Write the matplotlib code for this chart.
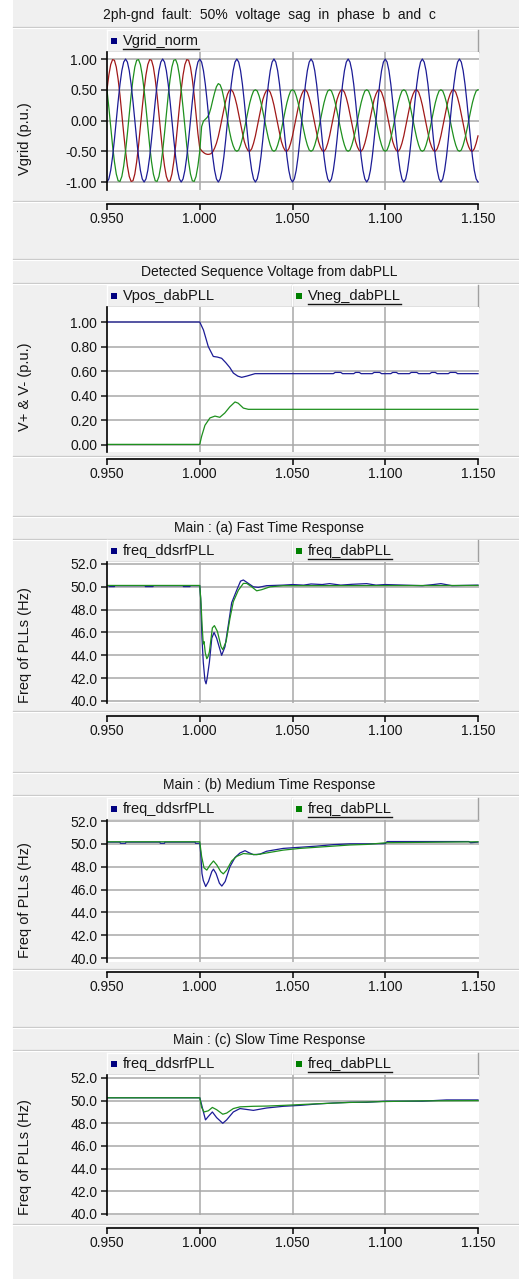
import numpy as np
import matplotlib
matplotlib.use('Agg')
import matplotlib.pyplot as plt
from matplotlib.patches import Rectangle
from matplotlib.ticker import FormatStrFormatter

plt.rcParams['font.family'] = ['Liberation Sans', 'DejaVu Sans']

# ---------------- data ----------------
# grid voltages, 1 ms samples from 0.950 s to 1.150 s
t_grid = np.linspace(0.950, 1.150, 201)

vgrid_a = [
    -1.00, -0.95, -0.81, -0.59, -0.31, 0.00, 0.31, 0.59, 0.81, 0.95, 1.00, 0.95, 0.81, 0.59, 0.31, 0.00, -0.31, -0.59, -0.81, -0.95,
    -1.00, -0.95, -0.81, -0.59, -0.31, 0.00, 0.31, 0.59, 0.81, 0.95, 1.00, 0.95, 0.81, 0.59, 0.31, 0.00, -0.31, -0.59, -0.81, -0.95,
    -1.00, -0.95, -0.81, -0.59, -0.31, 0.00, 0.31, 0.59, 0.81, 0.95, 1.00, 0.95, 0.81, 0.59, 0.31, 0.00, -0.31, -0.59, -0.81, -0.95,
    -1.00, -0.95, -0.81, -0.59, -0.31, 0.00, 0.31, 0.59, 0.81, 0.95, 1.00, 0.95, 0.81, 0.59, 0.31, 0.00, -0.31, -0.59, -0.81, -0.95,
    -1.00, -0.95, -0.81, -0.59, -0.31, 0.00, 0.31, 0.59, 0.81, 0.95, 1.00, 0.95, 0.81, 0.59, 0.31, 0.00, -0.31, -0.59, -0.81, -0.95,
    -1.00, -0.95, -0.81, -0.59, -0.31, 0.00, 0.31, 0.59, 0.81, 0.95, 1.00, 0.95, 0.81, 0.59, 0.31, 0.00, -0.31, -0.59, -0.81, -0.95,
    -1.00, -0.95, -0.81, -0.59, -0.31, 0.00, 0.31, 0.59, 0.81, 0.95, 1.00, 0.95, 0.81, 0.59, 0.31, 0.00, -0.31, -0.59, -0.81, -0.95,
    -1.00, -0.95, -0.81, -0.59, -0.31, 0.00, 0.31, 0.59, 0.81, 0.95, 1.00, 0.95, 0.81, 0.59, 0.31, 0.00, -0.31, -0.59, -0.81, -0.95,
    -1.00, -0.95, -0.81, -0.59, -0.31, 0.00, 0.31, 0.59, 0.81, 0.95, 1.00, 0.95, 0.81, 0.59, 0.31, 0.00, -0.31, -0.59, -0.81, -0.95,
    -1.00, -0.95, -0.81, -0.59, -0.31, 0.00, 0.31, 0.59, 0.81, 0.95, 1.00, 0.95, 0.81, 0.59, 0.31, 0.00, -0.31, -0.59, -0.81, -0.95,
    -1.00]

vgrid_b = [
    0.50, 0.21, -0.10, -0.41, -0.67, -0.87, -0.98, -0.99, -0.91, -0.74, -0.50, -0.21, 0.10, 0.41, 0.67, 0.87, 0.98, 0.99, 0.91, 0.74,
    0.50, 0.21, -0.10, -0.41, -0.67, -0.87, -0.98, -0.99, -0.91, -0.74, -0.50, -0.21, 0.10, 0.41, 0.67, 0.87, 0.98, 0.99, 0.91, 0.74,
    0.50, 0.21, -0.10, -0.41, -0.67, -0.87, -0.98, -0.99, -0.91, -0.74,
    -0.50, -0.10, -0.01, 0.02, 0.05, 0.10, 0.20, 0.33, 0.45, 0.55, 0.60, 0.58, 0.50, 0.36, 0.18, 0.00, -0.17, -0.31, -0.41, -0.48,
    -0.50, -0.48, -0.40, -0.29, -0.15, 0.00, 0.15, 0.29, 0.40, 0.48, 0.50, 0.48, 0.40, 0.29, 0.15, 0.00, -0.15, -0.29, -0.40, -0.48,
    -0.50, -0.48, -0.40, -0.29, -0.15, 0.00, 0.15, 0.29, 0.40, 0.48, 0.50, 0.48, 0.40, 0.29, 0.15, 0.00, -0.15, -0.29, -0.40, -0.48,
    -0.50, -0.48, -0.40, -0.29, -0.15, 0.00, 0.15, 0.29, 0.40, 0.48, 0.50, 0.48, 0.40, 0.29, 0.15, 0.00, -0.15, -0.29, -0.40, -0.48,
    -0.50, -0.48, -0.40, -0.29, -0.15, 0.00, 0.15, 0.29, 0.40, 0.48, 0.50, 0.48, 0.40, 0.29, 0.15, 0.00, -0.15, -0.29, -0.40, -0.48,
    -0.50, -0.48, -0.40, -0.29, -0.15, 0.00, 0.15, 0.29, 0.40, 0.48, 0.50, 0.48, 0.40, 0.29, 0.15, 0.00, -0.15, -0.29, -0.40, -0.48,
    -0.50, -0.48, -0.40, -0.29, -0.15, 0.00, 0.15, 0.29, 0.40, 0.48, 0.50, 0.48, 0.40, 0.29, 0.15, 0.00, -0.15, -0.29, -0.40, -0.48,
    -0.50, -0.48, -0.40, -0.29, -0.15, 0.00, 0.15, 0.29, 0.40, 0.48, 0.50]

vgrid_c = [
    0.50, 0.74, 0.91, 0.99, 0.98, 0.87, 0.67, 0.41, 0.10, -0.21, -0.50, -0.74, -0.91, -0.99, -0.98, -0.87, -0.67, -0.41, -0.10, 0.21,
    0.50, 0.74, 0.91, 0.99, 0.98, 0.87, 0.67, 0.41, 0.10, -0.21, -0.50, -0.74, -0.91, -0.99, -0.98, -0.87, -0.67, -0.41, -0.10, 0.21,
    0.50, 0.74, 0.91, 0.99, 0.98, 0.87, 0.67, 0.41, 0.10, -0.21,
    -0.45, -0.49, -0.52, -0.54, -0.55, -0.55, -0.54, -0.51, -0.45, -0.37, -0.26, -0.12, 0.03, 0.18, 0.32, 0.43, 0.49, 0.50, 0.46, 0.37,
    0.25, 0.10, -0.05, -0.20, -0.34, -0.43, -0.49, -0.50, -0.46, -0.37, -0.25, -0.10, 0.05, 0.20, 0.34, 0.43, 0.49, 0.50, 0.46, 0.37,
    0.25, 0.10, -0.05, -0.20, -0.34, -0.43, -0.49, -0.50, -0.46, -0.37, -0.25, -0.10, 0.05, 0.20, 0.34, 0.43, 0.49, 0.50, 0.46, 0.37,
    0.25, 0.10, -0.05, -0.20, -0.34, -0.43, -0.49, -0.50, -0.46, -0.37, -0.25, -0.10, 0.05, 0.20, 0.34, 0.43, 0.49, 0.50, 0.46, 0.37,
    0.25, 0.10, -0.05, -0.20, -0.34, -0.43, -0.49, -0.50, -0.46, -0.37, -0.25, -0.10, 0.05, 0.20, 0.34, 0.43, 0.49, 0.50, 0.46, 0.37,
    0.25, 0.10, -0.05, -0.20, -0.34, -0.43, -0.49, -0.50, -0.46, -0.37, -0.25, -0.10, 0.05, 0.20, 0.34, 0.43, 0.49, 0.50, 0.46, 0.37,
    0.25, 0.10, -0.05, -0.20, -0.34, -0.43, -0.49, -0.50, -0.46, -0.37, -0.25, -0.10, 0.05, 0.20, 0.34, 0.43, 0.49, 0.50, 0.46, 0.37,
    0.25, 0.10, -0.05, -0.20, -0.34, -0.43, -0.49, -0.50, -0.46, -0.37, -0.25]

# positive / negative sequence from dabPLL
vpos_t = [0.950, 1.000, 1.002, 1.0046, 1.0073, 1.0095, 1.0118, 1.014, 1.0162, 1.0181, 1.0205, 1.0226, 1.0253, 1.0298,
          1.072, 1.073, 1.076, 1.077, 1.083, 1.084, 1.086, 1.087, 1.093, 1.094, 1.097, 1.098, 1.103, 1.104, 1.106, 1.107,
          1.113, 1.114, 1.117, 1.118, 1.124, 1.125, 1.127, 1.128, 1.134, 1.135, 1.138, 1.139, 1.150]
vpos = [1.00, 1.00, 0.935, 0.80, 0.72, 0.715, 0.705, 0.67, 0.63, 0.585, 0.56, 0.55, 0.56, 0.58,
        0.58, 0.59, 0.59, 0.58, 0.58, 0.59, 0.59, 0.58, 0.58, 0.59, 0.59, 0.58, 0.58, 0.59, 0.59, 0.58,
        0.58, 0.59, 0.59, 0.58, 0.58, 0.59, 0.59, 0.58, 0.58, 0.59, 0.59, 0.58, 0.58]
vneg_t = [0.950, 1.000, 1.001, 1.0028, 1.0055, 1.0082, 1.0108, 1.0135, 1.0162, 1.019, 1.0207, 1.0235, 1.0262, 1.150]
vneg = [0.005, 0.005, 0.07, 0.16, 0.22, 0.235, 0.225, 0.26, 0.31, 0.35, 0.34, 0.30, 0.29, 0.29]

# (a) fast response
fast_dd_t = [0.950, 0.9510, 0.9512, 0.9540, 0.9542, 0.9705, 0.9707, 0.9748, 0.9750, 0.9910, 0.9912, 0.9947, 0.9949,
             1.0000, 1.0005, 1.0012, 1.0019, 1.0028, 1.0034, 1.0040, 1.0052, 1.0065, 1.0077, 1.0091, 1.0109, 1.0118,
             1.0136, 1.0154, 1.0172, 1.0199, 1.0220, 1.0235, 1.0262, 1.0289, 1.0316, 1.0360, 1.0450, 1.0500, 1.0560,
             1.0600, 1.0660, 1.0700, 1.0760, 1.0820, 1.0900, 1.0950, 1.1000, 1.1100, 1.1200, 1.1260, 1.1300, 1.1360, 1.1500]
fast_dd = [50.10, 50.10, 50.02, 50.02, 50.10, 50.10, 50.02, 50.02, 50.10, 50.10, 50.02, 50.02, 50.10,
           50.10, 49.0, 45.5, 43.4, 41.8, 41.5, 42.0, 43.4, 45.5, 46.0, 45.5, 44.5, 44.0,
           44.75, 46.65, 48.6, 49.7, 50.5, 50.6, 50.3, 50.0, 49.95, 50.1, 50.15, 50.2, 50.15,
           50.25, 50.2, 50.28, 50.15, 50.22, 50.28, 50.15, 50.2, 50.15, 50.1, 50.2, 50.28, 50.1, 50.15]
fast_dab_t = [0.950, 1.000, 1.0007, 1.0013, 1.0019, 1.0023, 1.0030, 1.0038, 1.0045, 1.0052, 1.0068, 1.0079, 1.0095,
              1.0115, 1.0124, 1.0142, 1.0163, 1.0181, 1.0208, 1.0235, 1.0253, 1.0280, 1.0307, 1.0334, 1.0379, 1.0450, 1.1500]
fast_dab = [50.12, 50.12, 48.5, 46.5, 45.0, 45.2, 44.2, 43.7, 43.9, 44.3, 46.4, 46.6, 46.1,
            44.75, 44.5, 45.2, 47.25, 48.7, 49.7, 50.3, 50.3, 50.0, 49.65, 49.75, 50.0, 50.1, 50.12]

# (b) medium response
med_dd_t = [0.950, 0.9570, 0.9572, 0.9600, 0.9602, 0.9785, 0.9787, 0.9810, 0.9812, 0.9975, 0.9977, 1.0000,
            1.0005, 1.0012, 1.0019, 1.0032, 1.0047, 1.0065, 1.0074, 1.0088, 1.0106, 1.0119, 1.0137, 1.0163, 1.0190,
            1.0217, 1.0244, 1.0262, 1.0289, 1.0325, 1.0360, 1.0450, 1.0540, 1.0630, 1.0720, 1.0810, 1.0900, 1.1000,
            1.1010, 1.1450, 1.1460, 1.1500]
med_dd = [50.15, 50.15, 50.05, 50.05, 50.15, 50.15, 50.05, 50.05, 50.15, 50.15, 50.05, 50.05,
          49.2, 47.4, 46.8, 46.26, 46.7, 47.57, 47.78, 47.4, 46.55, 46.3, 46.7, 48.0, 48.8,
          49.2, 49.4, 49.25, 49.05, 49.1, 49.35, 49.6, 49.7, 49.8, 49.93, 50.0, 50.0, 50.02,
          50.2, 50.2, 50.1, 50.15]
med_dab_t = [0.950, 1.000, 1.0010, 1.0023, 1.0038, 1.0056, 1.0074, 1.0092, 1.0113, 1.0127, 1.0145, 1.0172, 1.0199,
             1.0235, 1.0271, 1.0307, 1.0360, 1.0450, 1.0540, 1.0630, 1.0720, 1.0810, 1.0900, 1.1008, 1.1500]
med_dab = [50.18, 50.18, 48.9, 47.9, 47.7, 48.15, 48.5, 48.15, 47.57, 47.37, 47.7, 48.5, 48.9,
           49.15, 49.1, 49.05, 49.2, 49.45, 49.6, 49.7, 49.8, 49.9, 49.95, 50.1, 50.18]

# (c) slow response
slow_dd_t = [0.950, 1.000, 1.0010, 1.0019, 1.0031, 1.0046, 1.0068, 1.0091, 1.0124, 1.0145, 1.0181, 1.0217, 1.0289,
             1.0361, 1.0451, 1.0540, 1.0630, 1.0720, 1.0810, 1.0900, 1.1000, 1.1200, 1.1330, 1.1500]
slow_dd = [50.25, 50.25, 49.64, 49.05, 48.3, 48.6, 49.0, 48.5, 48.0, 48.3, 49.0, 49.3, 49.14,
           49.35, 49.5, 49.58, 49.7, 49.79, 49.85, 49.85, 49.95, 49.95, 50.06, 50.06]
slow_dab_t = [0.950, 1.000, 1.0010, 1.0023, 1.0046, 1.0068, 1.0091, 1.0124, 1.0145, 1.0181, 1.0217, 1.0289, 1.0361,
              1.0451, 1.0540, 1.0630, 1.0720, 1.0810, 1.1000, 1.1200, 1.1500]
slow_dab = [50.25, 50.25, 49.4, 49.0, 49.1, 49.4, 49.2, 48.8, 48.9, 49.3, 49.45, 49.5, 49.52,
            49.58, 49.65, 49.72, 49.78, 49.84, 49.92, 49.98, 50.0]

x_ticks = [0.950, 1.000, 1.050, 1.100, 1.150]
v_ticks = [-1.0, -0.5, 0.0, 0.5, 1.0]
seq_ticks = [0.0, 0.2, 0.4, 0.6, 0.8, 1.0]
f_ticks = [40.0, 42.0, 44.0, 46.0, 48.0, 50.0, 52.0]

BLUE = '#1c1c96'
RED = '#a01818'
GREEN = '#1e901e'

# ---------------- figure frame ----------------
W, H = 519, 1279
fig = plt.figure(figsize=(W / 100, H / 100), dpi=100)
fig.patch.set_facecolor('white')
bg = fig.add_axes([0, 0, 1, 1])
bg.set_xlim(0, W)
bg.set_ylim(H, 0)
bg.axis('off')
bg.add_patch(Rectangle((13, 0), W - 13, H, facecolor='#f0f0f0', edgecolor='none'))


def fbox(x0, y0, x1, y1):
    return [x0 / W, 1 - y1 / H, (x1 - x0) / W, (y1 - y0) / H]


def hline(y):
    bg.plot([13, W], [y, y], color='#c4c4c4', lw=0.9)
    bg.plot([13, W], [y + 1, y + 1], color='white', lw=0.9)


underlined = []


def legend_cell(x0, x1, y0, y1, label, color, underline):
    bg.add_patch(Rectangle((x0, y0), x1 - x0, y1 - y0, facecolor='#f0f0f0', edgecolor='none'))
    bg.plot([x0, x1], [y0, y0], color='white', lw=1)
    bg.plot([x0, x0], [y0, y1], color='white', lw=1)
    bg.plot([x0, x1], [y1, y1], color='#a0a0a0', lw=1)
    bg.plot([x1, x1], [y0, y1], color='#a0a0a0', lw=1)
    yc = (y0 + y1) / 2
    bg.add_patch(Rectangle((x0 + 4, yc - 3), 6, 5.5, facecolor=color, edgecolor='none'))
    txt = bg.text(x0 + 16, yc, label, fontsize=10.5, ha='left', va='center', color='#151515')
    if underline:
        underlined.append(txt)


layout = [
    dict(top=None, title=15, tline=27, leg=(30, 52), plot=(52, 190), sep=201, xax=204, ylab=139),
    dict(top=259, title=272, tline=283, leg=(285, 307), plot=(307, 452), sep=456, xax=459, ylab=387),
    dict(top=516, title=528, tline=539, leg=(540, 562), plot=(562, 703), sep=711, xax=716, ylab=645),
    dict(top=772, title=785, tline=795, leg=(798, 820), plot=(820, 962), sep=969, xax=972, ylab=900),
    dict(top=1027, title=1040, tline=1050, leg=(1053, 1075), plot=(1075, 1215), sep=1224, xax=1228, ylab=1157),
]

X0, X1 = 107, 478


def panel(lay, title, ylabel, ylim, yticks, yfmt, traces, legend):
    if lay['top'] is not None:
        hline(lay['top'])
    hline(lay['tline'])
    hline(lay['sep'])
    bg.text(269, lay['title'], title, fontsize=10, ha='center', va='center', color='#151515')

    ly0, ly1 = lay['leg']
    if len(legend) == 1:
        cells = [(X0, X1)]
    else:
        cells = [(X0, 292), (292, X1)]
    for (cx0, cx1), (label, color, ul) in zip(cells, legend):
        legend_cell(cx0, cx1, ly0, ly1, label, color, ul)

    py0, py1 = lay['plot']
    ax = fig.add_axes(fbox(X0, py0, X1 + 1, py1))
    ax.set_facecolor('white')
    for t, y, c in traces:
        ax.plot(t, y, color=c, lw=0.9)
    ax.set_xlim(0.95, 1.15 + 0.2 / (X1 - X0))
    ax.set_ylim(*ylim)
    ax.set_xticks([1.0, 1.05, 1.1])
    ax.set_yticks(yticks)
    ax.yaxis.set_major_formatter(FormatStrFormatter(yfmt))
    ax.grid(True, color='#a8a8a8', lw=1.1)
    ax.set_axisbelow(True)
    for s in ['top', 'right', 'bottom']:
        ax.spines[s].set_visible(False)
    ax.spines['left'].set_linewidth(1.2)
    ax.tick_params(axis='x', length=0, labelbottom=False)
    ax.tick_params(axis='y', direction='out', length=4.5, width=1.1, labelsize=10, pad=2.5, colors='#151515')

    fig.text(25 / W, 1 - lay['ylab'] / H, ylabel, rotation=90, fontsize=10.5,
             ha='center', va='center', color='#151515')

    axx = fig.add_axes(fbox(X0, lay['xax'] - 1, X1, lay['xax']))
    axx.set_xlim(0.95, 1.15)
    axx.set_ylim(0, 1)
    axx.patch.set_visible(False)
    for s in ['top', 'left', 'right']:
        axx.spines[s].set_visible(False)
    axx.spines['bottom'].set_linewidth(1.2)
    axx.set_yticks([])
    axx.set_xticks(x_ticks)
    axx.xaxis.set_major_formatter(FormatStrFormatter('%.3f'))
    axx.tick_params(axis='x', direction='out', length=4, width=1.2, labelsize=10, pad=2, colors='#151515')


panel(layout[0], '2ph-gnd  fault:  50%  voltage  sag  in  phase  b  and  c', 'Vgrid (p.u.)',
      (-1.13, 1.114), v_ticks, '%.2f',
      [(t_grid, vgrid_c, RED), (t_grid, vgrid_b, GREEN), (t_grid, vgrid_a, BLUE)],
      [('Vgrid_norm', '#000080', True)])

panel(layout[1], 'Detected Sequence Voltage from dabPLL', 'V+ & V- (p.u.)',
      (-0.057, 1.122), seq_ticks, '%.2f',
      [(vpos_t, vpos, BLUE), (vneg_t, vneg, GREEN)],
      [('Vpos_dabPLL', '#000080', False), ('Vneg_dabPLL', '#008000', True)])

panel(layout[2], 'Main : (a) Fast Time Response', 'Freq of PLLs (Hz)',
      (39.82, 52.175), f_ticks, '%.1f',
      [(fast_dd_t, fast_dd, BLUE), (fast_dab_t, fast_dab, GREEN)],
      [('freq_ddsrfPLL', '#000080', False), ('freq_dabPLL', '#008000', True)])

panel(layout[3], 'Main : (b) Medium Time Response', 'Freq of PLLs (Hz)',
      (39.65, 52.088), f_ticks, '%.1f',
      [(med_dd_t, med_dd, BLUE), (med_dab_t, med_dab, GREEN)],
      [('freq_ddsrfPLL', '#000080', False), ('freq_dabPLL', '#008000', True)])

panel(layout[4], 'Main : (c) Slow Time Response', 'Freq of PLLs (Hz)',
      (39.91, 52.26), f_ticks, '%.1f',
      [(slow_dd_t, slow_dd, BLUE), (slow_dab_t, slow_dab, GREEN)],
      [('freq_ddsrfPLL', '#000080', False), ('freq_dabPLL', '#008000', True)])

# underline the active legend entries
renderer = fig.canvas.get_renderer()
for txt in underlined:
    bb = txt.get_window_extent(renderer=renderer)
    yy = H - bb.y0 + 0.5
    bg.plot([bb.x0, bb.x1], [yy, yy], color='#151515', lw=1)

fig.savefig('out.png', dpi=100)
